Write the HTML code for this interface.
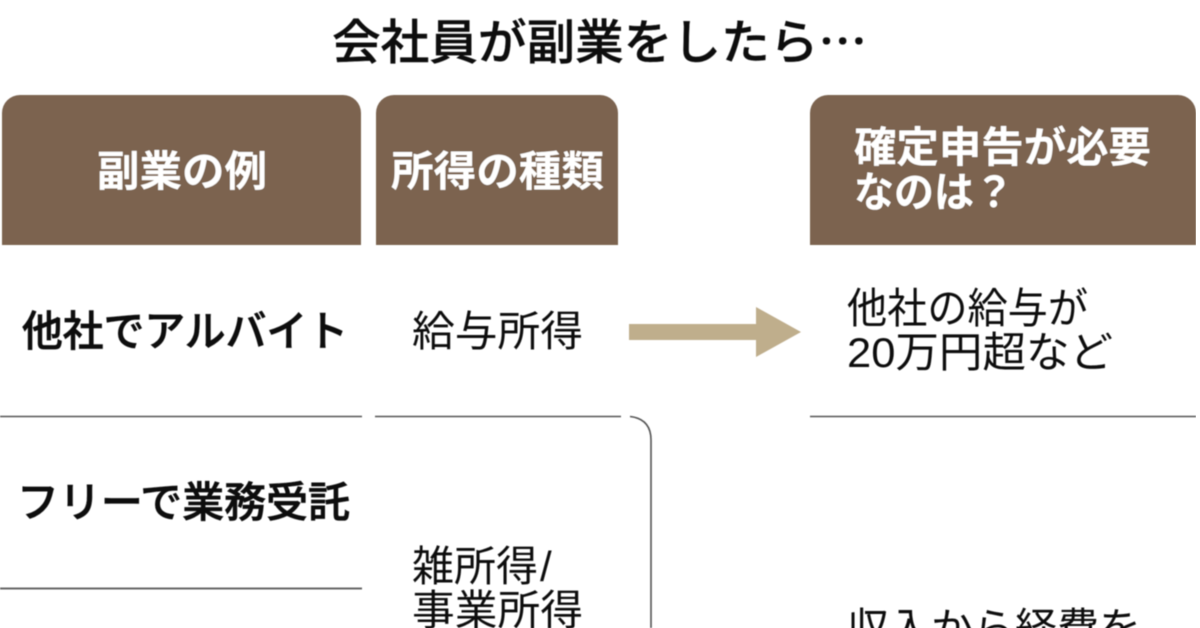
<!DOCTYPE html>
<html lang="ja">
<head>
<meta charset="utf-8">
<title>会社員が副業をしたら…</title>
<style>
html,body{margin:0;padding:0;background:#fff;width:1200px;height:628px;overflow:hidden}
svg{display:block}
text{font-family:"Liberation Sans","Noto Sans CJK JP",sans-serif;fill:#111}
.t{font-family:"Noto Sans CJK JP",sans-serif;font-size:48px;font-weight:500;stroke:#111;stroke-width:.4}
.h{fill:#fff;font-weight:700;font-size:42px}
.b{font-weight:500;font-size:42px;stroke:#111;stroke-width:.7}
.n{font-weight:400;font-size:42px}
</style>
</head>
<body>
<svg width="1200" height="628" viewBox="0 0 1200 628" xmlns="http://www.w3.org/2000/svg">
<defs><filter id="s" x="0" y="0" width="100%" height="100%"><feGaussianBlur stdDeviation="0.5"/></filter></defs>
<g filter="url(#s)">
<text class="t" x="332" y="59" textLength="535" lengthAdjust="spacingAndGlyphs">会社員が副業をしたら⋯</text>

<path d="M2 245V113a18 18 0 0 1 18-18H343a18 18 0 0 1 18 18V245Z" fill="#7b6350"/>
<path d="M376 245V113a18 18 0 0 1 18-18H600a18 18 0 0 1 18 18V245Z" fill="#7b6350"/>
<path d="M810 245V113a18 18 0 0 1 18-18H1178a18 18 0 0 1 18 18V245Z" fill="#7b6350"/>

<text class="h" x="97" y="186" textLength="170" lengthAdjust="spacingAndGlyphs">副業の例</text>
<text class="h" x="391" y="186" textLength="213" lengthAdjust="spacingAndGlyphs">所得の種類</text>
<text class="h" x="854" y="162" textLength="297" lengthAdjust="spacingAndGlyphs">確定申告が必要</text>
<text class="h" x="854" y="207" textLength="160" lengthAdjust="spacingAndGlyphs">なのは？</text>

<text class="b" x="22" y="346" textLength="326" lengthAdjust="spacingAndGlyphs">他社でアルバイト</text>
<text class="n" x="412" y="346" textLength="171" lengthAdjust="spacingAndGlyphs">給与所得</text>
<text class="n" x="847" y="323" textLength="241" lengthAdjust="spacingAndGlyphs">他社の給与が</text>
<text class="n" x="847" y="367" textLength="266" lengthAdjust="spacingAndGlyphs">20万円超など</text>

<polygon points="629,324 756,324 756,307 801,332 756,357 756,340 629,340" fill="#bfae8c"/>

<g stroke="#555" stroke-width="1.6" fill="none">
<path d="M0 416.5H362"/>
<path d="M375 416.5H621"/>
<path d="M630 416.5C643 418 651 425 651 440V628"/>
<path d="M810 416.5H1196"/>
<path d="M0 588.5H362" stroke="#666" stroke-width="2"/>
</g>

<text class="b" x="17" y="517" textLength="333" lengthAdjust="spacingAndGlyphs">フリーで業務受託</text>
<text class="n" x="412" y="581" textLength="126" lengthAdjust="spacingAndGlyphs">雑所得</text>
<text class="n" x="540" y="581">/</text>
<text class="n" x="412" y="625" textLength="171" lengthAdjust="spacingAndGlyphs">事業所得</text>
<text class="n" x="847" y="643" textLength="294" lengthAdjust="spacingAndGlyphs">収入から経費を</text>
</g>
</svg>
</body>
</html>
